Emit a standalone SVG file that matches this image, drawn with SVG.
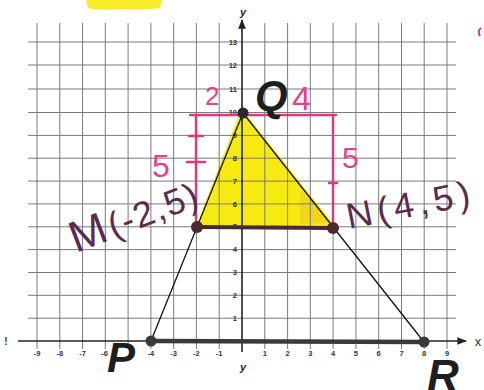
<svg xmlns="http://www.w3.org/2000/svg" width="484" height="390" viewBox="0 0 484 390">
<defs>
<style>
.grid{stroke:#7a7a7a;stroke-width:1;fill:none}
.ax{stroke:#222;stroke-width:1.6;fill:none}
.tk{font-family:"Liberation Sans",Arial,sans-serif;font-size:7.5px;font-weight:bold;fill:#333}
.pink{stroke:#dc3a7c;stroke-width:2.4;fill:none;stroke-linecap:round}
.pt{font-family:"Liberation Sans",Arial,sans-serif;fill:#e0448a}
.hw{font-family:"Liberation Sans",Arial,sans-serif;fill:#5a2a52}
.big{font-family:"Liberation Sans",Arial,sans-serif;font-weight:bold;font-style:italic;fill:#1e1e1e}
</style>
<marker id="arr" viewBox="0 0 10 10" refX="9" refY="5" markerWidth="6" markerHeight="6" orient="auto"><path d="M0,1 L10,5 L0,9 z" fill="#222"/></marker>
</defs>
<rect width="484" height="390" fill="#fff"/>
<!-- scan fragments at top -->
<path d="M86,0 L162,0 L160,8 Q140,11 120,9 Q100,11 88,8 z" fill="#f7ec2a"/>
<path d="M481,28 Q477,31 480,36" stroke="#dc3a7c" stroke-width="2" fill="none"/>
<!-- yellow highlight -->
<g id="highlight">
<path d="M238,117 L247,116 L330,220 L332,226 L199,226 L200,216 Z" fill="#f6ea12"/>
<path d="M300,190 L330,222 L300,224 Z" fill="#f0c81e" opacity="0.6"/>
</g>
<!-- grid -->
<g id="grid" class="grid">
<path d="M37,23V349M59.8,23V349M82.6,23V349M105.3,23V349M128.1,23V349M150.9,23V349M173.7,23V349M196.4,23V349M219.2,23V349M264.8,23V349M287.6,23V349M310.3,23V349M333.1,23V349M355.9,23V349M378.7,23V349M401.5,23V349M424.2,23V349M447,23V349"/>
<path d="M28,42H456M28,65H456M28,89H456M28,112.5H456M28,135.4H456M28,158.2H456M28,181.1H456M28,203.9H456M28,226.8H456M28,249.6H456M28,272.5H456M28,295.3H456M28,318.2H456"/>
</g>
<g id="axes">
<line class="ax" x1="18" y1="341" x2="466" y2="341" marker-end="url(#arr)"/>
<line class="ax" x1="242" y1="352" x2="242" y2="20" marker-end="url(#arr)"/>
<text x="243" y="16" class="big" style="font-size:11px" text-anchor="middle">y</text>
<text x="243" y="371" class="big" style="font-size:11px" text-anchor="middle">y</text>
<text x="478" y="346" font-family="Liberation Sans,Arial,sans-serif" font-size="13" fill="#333" text-anchor="middle">x</text>
<text x="6" y="345" font-family="Liberation Sans,Arial,sans-serif" font-size="10" font-weight="bold" fill="#333" text-anchor="middle">!</text>
</g>
<g id="ticks" class="tk">
<text x="37" y="356" text-anchor="middle">-9</text>
<text x="59.8" y="356" text-anchor="middle">-8</text>
<text x="82.6" y="356" text-anchor="middle">-7</text>
<text x="104.5" y="356" text-anchor="middle">-6</text>
<text x="150.9" y="356" text-anchor="middle">-4</text>
<text x="173.7" y="356" text-anchor="middle">-3</text>
<text x="196.4" y="356" text-anchor="middle">-2</text>
<text x="219.2" y="356" text-anchor="middle">-1</text>
<text x="264.8" y="356" text-anchor="middle">1</text>
<text x="287.6" y="356" text-anchor="middle">2</text>
<text x="310.3" y="356" text-anchor="middle">3</text>
<text x="333.1" y="356" text-anchor="middle">4</text>
<text x="355.9" y="356" text-anchor="middle">5</text>
<text x="378.7" y="356" text-anchor="middle">6</text>
<text x="401.5" y="356" text-anchor="middle">7</text>
<text x="424.2" y="356" text-anchor="middle">8</text>
<text x="447" y="356" text-anchor="middle">9</text>
<text x="237" y="320.8" text-anchor="end">1</text>
<text x="237" y="297.9" text-anchor="end">2</text>
<text x="237" y="275.1" text-anchor="end">3</text>
<text x="237" y="252.2" text-anchor="end">4</text>
<text x="237" y="229.4" text-anchor="end">5</text>
<text x="237" y="206.5" text-anchor="end">6</text>
<text x="237" y="183.7" text-anchor="end">7</text>
<text x="237" y="160.8" text-anchor="end">8</text>
<text x="237" y="138" text-anchor="end">9</text>
<text x="237" y="115.1" text-anchor="end">10</text>
<text x="237" y="91.6" text-anchor="end">11</text>
<text x="237" y="67.6" text-anchor="end">12</text>
<text x="237" y="44.6" text-anchor="end">13</text>
</g>
<!-- pink box -->
<g id="box">
<path class="pink" d="M190,115 H336 M196,115 V226 M333,115 V226 M189,136 H203 M187,162 H205 M329,183 H337"/>
<text class="pt" x="205" y="105" font-size="26">2</text>
<text class="pt" x="292" y="110" font-size="34">4</text>
<text class="pt" x="152" y="177" font-size="32">5</text>
<text class="pt" x="342" y="168" font-size="30">5</text>
</g>
<g id="connectors">
<line x1="151" y1="341" x2="243" y2="113" stroke="#111" stroke-width="1.3"/>
<line x1="243" y1="113" x2="424" y2="342" stroke="#111" stroke-width="1.3"/>
<line x1="151" y1="341" x2="424" y2="342" stroke="#3a3a3a" stroke-width="4.5"/>
<line x1="197" y1="227" x2="333" y2="228" stroke="#4a2a2c" stroke-width="4"/>
</g>
<g id="Q"><circle cx="243" cy="113" r="5.5" fill="#2a2a2a"/><text class="big" x="255" y="110" font-size="42">Q</text></g>
<g id="M"><circle cx="197" cy="227" r="6" fill="#4a2a2c"/><text class="hw" transform="translate(76,253) rotate(-21)" font-size="36" letter-spacing="1.5"><tspan font-size="44">M</tspan><tspan dx="2">(-2,5)</tspan></text></g>
<g id="N"><circle cx="333" cy="228" r="6" fill="#4a2a2c"/><text class="hw" transform="translate(349,229) rotate(-11)" font-size="36" letter-spacing="5">N(4,5)</text></g>
<g id="P"><circle cx="151" cy="341" r="5.5" fill="#3a3a3a"/><text class="big" x="107" y="372" font-size="42">P</text></g>
<g id="R"><circle cx="424" cy="342" r="5.5" fill="#3a3a3a"/><text class="big" x="427" y="391" font-size="44">R</text></g>
</svg>
